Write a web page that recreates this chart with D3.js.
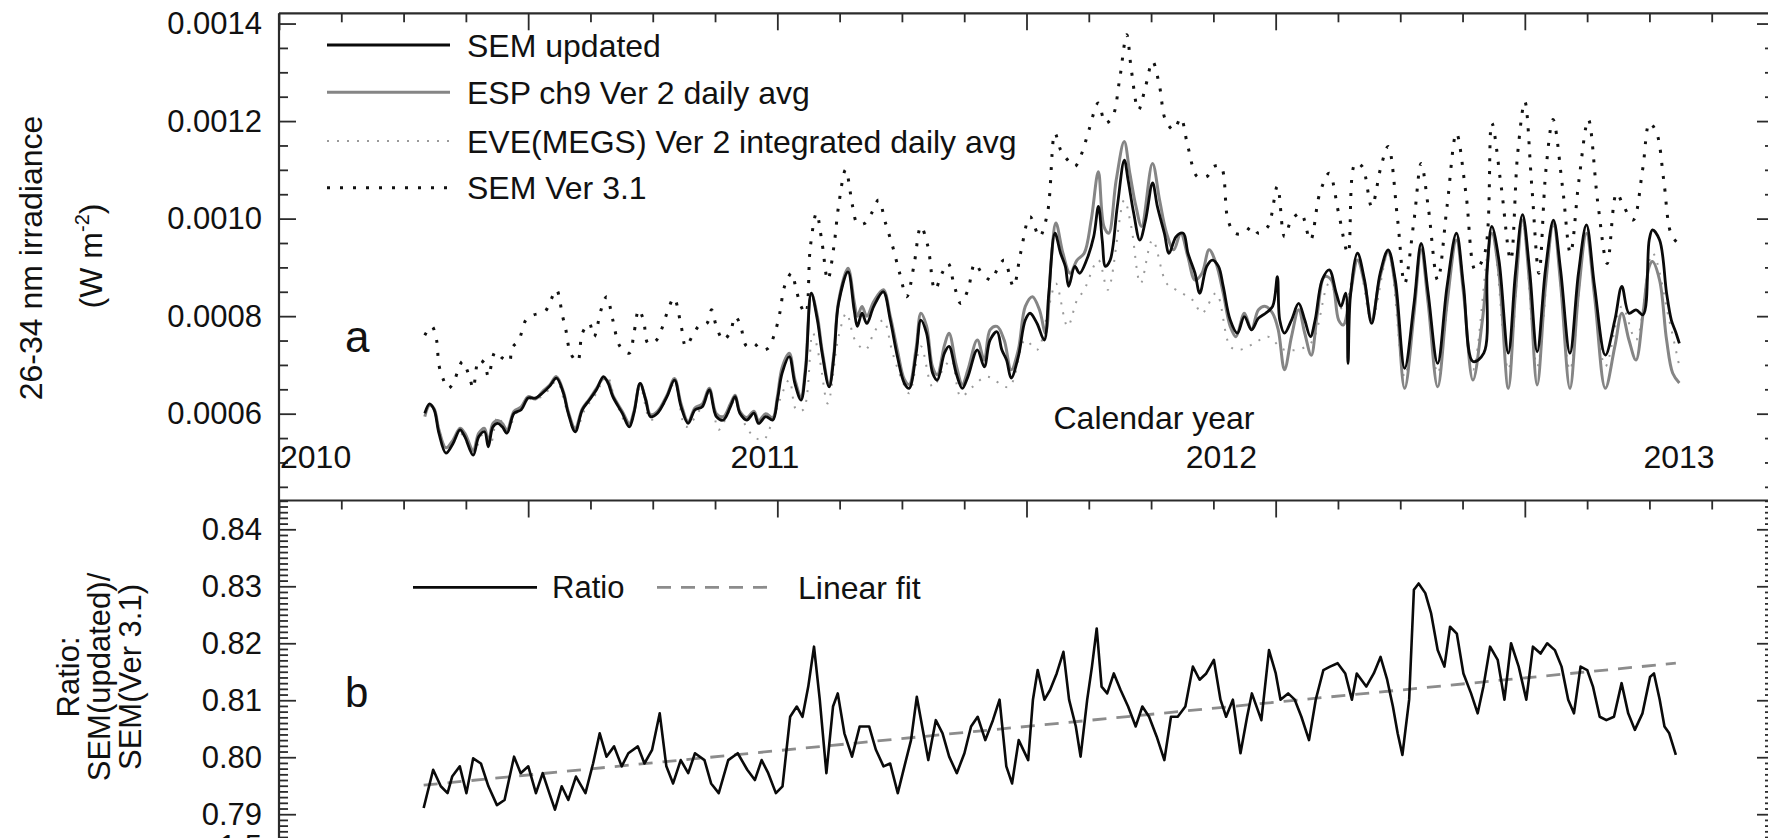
<!DOCTYPE html>
<html>
<head>
<meta charset="utf-8">
<script src="https://cdn.jsdelivr.net/npm/d3@7"></script>
<style>
  html, body { margin: 0; padding: 0; background: #fff; overflow: hidden; }
  svg { display: block; font-family: "Liberation Sans", Arial, Helvetica, sans-serif; }
</style>
</head>
<body>
<svg id="chart" width="1768" height="838"></svg>
<script>
// Time is in days counted from 2010-01-01; irradiance in W m^-2.

const semUpdated = [
  [92.9,6.01e-4],[96.7,6.20e-4],[100.4,6.08e-4],[104.2,5.60e-4],[109.8,5.19e-4],[115.5,5.39e-4],[121.1,5.67e-4],[124.9,5.53e-4],
  [131.6,5.15e-4],[136.1,5.53e-4],[140.7,5.63e-4],[143.7,5.32e-4],[147.4,5.73e-4],[151.2,5.80e-4],[154.9,5.73e-4],[158.7,5.60e-4],
  [164.3,6.01e-4],[170.0,6.08e-4],[175.6,6.32e-4],[181.3,6.32e-4],[186.9,6.42e-4],[192.6,6.56e-4],[198.2,6.73e-4],[203.8,6.42e-4],
  [207.6,6.01e-4],[213.2,5.63e-4],[218.9,6.08e-4],[224.5,6.28e-4],[230.2,6.49e-4],[235.8,6.76e-4],[239.6,6.62e-4],[243.3,6.35e-4],
  [250.8,6.01e-4],[256.5,5.73e-4],[260.2,6.01e-4],[265.1,6.62e-4],[269.6,6.28e-4],[273.4,5.94e-4],[279.0,6.01e-4],[286.6,6.35e-4],
  [292.6,6.69e-4],[297.9,6.14e-4],[303.5,5.80e-4],[309.1,6.08e-4],[314.8,6.14e-4],[320.4,6.49e-4],[326.1,5.94e-4],[331.7,5.87e-4],
  [337.3,6.14e-4],[341.1,6.35e-4],[344.9,6.01e-4],[350.5,5.87e-4],[356.1,6.01e-4],[359.9,5.80e-4],[365.6,5.94e-4],[371.2,5.87e-4],
  [374.9,6.28e-4],[378.7,6.83e-4],[384.4,7.17e-4],[388.9,6.62e-4],[393.8,6.28e-4],[397.5,6.90e-4],[402.0,8.47e-4],[406.9,7.92e-4],
  [410.7,7.24e-4],[416.3,6.55e-4],[420.1,7.17e-4],[423.8,8.26e-4],[431.4,8.91e-4],[436.3,8.13e-4],[438.9,7.79e-4],[442.6,8.06e-4],
  [446.4,7.85e-4],[452.0,8.20e-4],[459.6,8.50e-4],[465.2,7.92e-4],[470.9,7.17e-4],[476.5,6.62e-4],[480.3,6.52e-4],[485.9,7.24e-4],
  [489.7,7.92e-4],[494.2,7.65e-4],[499.1,6.83e-4],[502.8,6.69e-4],[508.5,7.24e-4],[512.2,7.38e-4],[517.9,6.83e-4],[522.8,6.52e-4],
  [527.3,6.76e-4],[534.8,7.31e-4],[540.4,6.96e-4],[545.0,7.51e-4],[550.6,7.68e-4],[554.4,7.31e-4],[558.2,7.10e-4],[561.9,6.73e-4],
  [567.6,7.17e-4],[573.2,7.92e-4],[577.0,8.06e-4],[582.6,7.85e-4],[588.3,7.51e-4],[592.0,8.47e-4],[596.9,9.70e-4],[601.4,9.29e-4],
  [605.2,9.02e-4],[607.9,8.61e-4],[612.8,9.02e-4],[616.6,8.88e-4],[622.2,9.15e-4],[627.9,9.63e-4],[631.7,10.25e-4],[634.7,9.56e-4],
  [637.3,9.02e-4],[641.1,9.15e-4],[646.8,10.25e-4],[652.4,11.20e-4],[655.4,10.79e-4],[659.9,10.11e-4],[664.8,9.56e-4],[669.4,9.97e-4],
  [675.0,10.73e-4],[678.8,10.25e-4],[684.4,9.70e-4],[688.2,9.29e-4],[693.8,9.63e-4],[699.5,9.70e-4],[703.3,9.29e-4],[708.9,8.88e-4],
  [712.7,8.47e-4],[718.3,9.02e-4],[722.8,9.15e-4],[727.7,9.02e-4],[731.5,8.61e-4],[737.1,7.92e-4],[742.8,7.65e-4],[748.4,7.99e-4],
  [754.1,7.72e-4],[759.7,7.96e-4],[765.4,8.06e-4],[771.0,8.20e-4],[774.8,8.81e-4],[776.7,7.92e-4],[780.5,7.65e-4],[786.1,7.92e-4],
  [791.8,8.26e-4],[796.7,7.92e-4],[801.2,7.58e-4],[805.0,7.92e-4],[810.6,8.74e-4],[816.3,8.95e-4],[821.9,8.47e-4],[825.7,8.20e-4],
  [829.4,8.47e-4],[831.3,7.03e-4],[833.2,8.40e-4],[838.9,9.29e-4],[844.5,8.74e-4],[850.2,7.85e-4],[857.0,8.88e-4],[863.4,9.36e-4],
  [869.1,8.74e-4],[876.6,6.93e-4],[884.1,8.26e-4],[889.8,9.49e-4],[895.4,8.47e-4],[903.0,7.03e-4],[910.5,8.61e-4],[918.0,9.70e-4],
  [923.7,8.61e-4],[931.2,7.07e-4],[939.9,7.24e-4],[942.6,8.95e-4],[946.3,9.84e-4],[952.0,9.15e-4],[959.5,7.24e-4],[965.2,8.88e-4],
  [970.9,10.08e-4],[976.5,8.95e-4],[982.6,7.27e-4],[989.2,8.95e-4],[995.6,9.97e-4],[1001.3,8.95e-4],[1008.8,7.24e-4],[1015.6,8.88e-4],
  [1022.0,9.87e-4],[1028.5,8.61e-4],[1037.1,7.20e-4],[1044.7,7.92e-4],[1050.3,8.61e-4],[1056.0,8.06e-4],[1061.6,8.13e-4],[1067.3,8.03e-4],
  [1072.2,9.56e-4],[1074.8,9.77e-4],[1080.5,9.56e-4],[1086.1,8.47e-4],[1089.9,7.92e-4],[1093.7,7.65e-4],[1096.3,7.44e-4]
];

const espCh9 = [
  [92.9,5.94e-4],[96.7,6.17e-4],[100.4,6.10e-4],[104.2,5.67e-4],[109.8,5.30e-4],[115.5,5.46e-4],[121.1,5.70e-4],[124.9,5.60e-4],
  [131.6,5.25e-4],[136.1,5.60e-4],[140.7,5.70e-4],[143.7,5.42e-4],[147.4,5.80e-4],[151.2,5.86e-4],[154.9,5.80e-4],[158.7,5.67e-4],
  [164.3,6.05e-4],[170.0,6.14e-4],[175.6,6.35e-4],[181.3,6.30e-4],[186.9,6.45e-4],[192.6,6.58e-4],[198.2,6.76e-4],[203.8,6.45e-4],
  [207.6,6.05e-4],[213.2,5.70e-4],[218.9,6.10e-4],[224.5,6.30e-4],[230.2,6.52e-4],[235.8,6.72e-4],[239.6,6.66e-4],[243.3,6.38e-4],
  [250.8,6.05e-4],[256.5,5.80e-4],[260.2,6.05e-4],[265.1,6.62e-4],[269.6,6.30e-4],[273.4,5.98e-4],[279.0,6.05e-4],[286.6,6.38e-4],
  [292.6,6.72e-4],[297.9,6.20e-4],[303.5,5.84e-4],[309.1,6.12e-4],[314.8,6.20e-4],[320.4,6.52e-4],[326.1,6.00e-4],[331.7,5.94e-4],
  [337.3,6.20e-4],[341.1,6.38e-4],[344.9,6.05e-4],[350.5,5.92e-4],[356.1,6.05e-4],[359.9,5.86e-4],[365.6,6.00e-4],[371.2,5.92e-4],
  [374.9,6.35e-4],[378.7,6.95e-4],[384.4,7.24e-4],[388.9,6.70e-4],[393.8,6.35e-4],[397.5,6.98e-4],[402.0,8.47e-4],[406.9,8.00e-4],
  [410.7,7.30e-4],[416.3,6.60e-4],[420.1,7.24e-4],[423.8,8.30e-4],[431.4,8.98e-4],[436.3,8.30e-4],[438.9,8.00e-4],[442.6,8.20e-4],
  [446.4,8.00e-4],[452.0,8.30e-4],[459.6,8.54e-4],[465.2,8.00e-4],[470.9,7.30e-4],[476.5,6.70e-4],[480.3,6.60e-4],[485.9,7.35e-4],
  [489.7,8.06e-4],[494.2,7.80e-4],[499.1,6.95e-4],[502.8,6.80e-4],[508.5,7.40e-4],[512.2,7.65e-4],[517.9,7.00e-4],[522.8,6.60e-4],
  [527.3,6.90e-4],[534.8,7.51e-4],[540.4,7.10e-4],[545.0,7.72e-4],[550.6,7.79e-4],[556.3,7.51e-4],[561.9,6.90e-4],[567.6,7.31e-4],
  [573.2,8.20e-4],[578.9,8.40e-4],[584.5,8.13e-4],[589.4,7.65e-4],[593.9,9.15e-4],[597.7,9.91e-4],[603.3,9.29e-4],[609.0,8.88e-4],
  [614.6,9.15e-4],[620.3,9.29e-4],[625.9,9.97e-4],[631.6,10.96e-4],[636.1,9.84e-4],[639.9,9.70e-4],[645.9,10.79e-4],[652.3,11.58e-4],
  [656.8,10.93e-4],[661.7,10.25e-4],[666.2,9.84e-4],[674.9,11.13e-4],[680.6,10.38e-4],[686.2,9.70e-4],[691.9,9.36e-4],[697.5,9.70e-4],
  [703.2,9.22e-4],[708.9,8.74e-4],[714.5,8.88e-4],[720.2,9.36e-4],[725.8,9.08e-4],[731.5,8.47e-4],[737.1,7.79e-4],[741.7,7.58e-4],
  [748.4,8.06e-4],[754.1,7.72e-4],[759.7,8.13e-4],[765.4,8.20e-4],[771.0,8.06e-4],[775.5,7.72e-4],[780.5,6.90e-4],[786.1,7.58e-4],
  [791.8,8.13e-4],[796.7,7.65e-4],[801.9,7.20e-4],[806.8,8.06e-4],[812.5,8.81e-4],[818.1,8.74e-4],[823.8,7.92e-4],[827.5,7.82e-4],
  [833.2,8.47e-4],[838.9,9.15e-4],[844.5,8.67e-4],[850.2,7.92e-4],[857.0,8.81e-4],[863.4,9.32e-4],[869.1,8.61e-4],[876.6,6.52e-4],
  [884.1,8.06e-4],[889.8,9.36e-4],[895.4,8.26e-4],[903.0,6.55e-4],[910.5,8.26e-4],[918.0,9.56e-4],[923.7,8.47e-4],[931.2,6.69e-4],
  [938.8,7.92e-4],[946.3,9.70e-4],[952.0,8.88e-4],[959.5,6.52e-4],[965.2,8.47e-4],[970.9,9.97e-4],[976.5,8.67e-4],[982.6,6.59e-4],
  [989.2,8.61e-4],[995.6,9.91e-4],[1001.3,8.67e-4],[1008.8,6.52e-4],[1015.6,8.47e-4],[1022.0,9.70e-4],[1028.5,8.40e-4],[1037.1,6.52e-4],
  [1044.7,7.38e-4],[1050.3,8.06e-4],[1056.0,7.51e-4],[1061.6,7.10e-4],[1067.3,8.06e-4],[1072.2,9.02e-4],[1074.8,9.12e-4],[1080.5,8.74e-4],
  [1086.1,7.51e-4],[1091.0,6.83e-4],[1096.3,6.63e-4]
];

const eveMegs = [
  [92.9,5.97e-4],[98.5,6.14e-4],[106.0,5.53e-4],[110.6,5.26e-4],[121.1,5.60e-4],[131.6,5.22e-4],[139.9,5.60e-4],[145.5,5.39e-4],
  [151.2,5.94e-4],[158.7,5.67e-4],[166.2,6.01e-4],[175.6,6.28e-4],[186.9,6.35e-4],[198.2,6.66e-4],[205.7,6.14e-4],[213.2,5.63e-4],
  [220.8,6.08e-4],[230.2,6.42e-4],[238.4,6.79e-4],[245.2,6.28e-4],[256.5,5.73e-4],[265.1,6.55e-4],[273.4,5.87e-4],[282.8,6.14e-4],
  [292.6,6.62e-4],[301.6,5.73e-4],[312.9,6.08e-4],[320.4,6.42e-4],[327.9,5.67e-4],[335.5,6.01e-4],[341.1,6.28e-4],[348.6,5.80e-4],
  [356.1,5.53e-4],[363.7,5.46e-4],[369.3,5.73e-4],[376.8,6.28e-4],[384.4,6.69e-4],[390.0,6.08e-4],[395.6,6.08e-4],[403.2,7.65e-4],
  [408.8,7.10e-4],[415.2,6.21e-4],[423.8,7.58e-4],[430.2,8.06e-4],[437.0,7.51e-4],[445.3,7.31e-4],[452.0,7.65e-4],[459.6,7.92e-4],
  [467.1,7.24e-4],[474.6,6.69e-4],[480.3,6.42e-4],[489.7,7.38e-4],[499.1,6.55e-4],[508.5,6.96e-4],[514.1,7.10e-4],[521.6,6.35e-4],
  [531.0,6.55e-4],[542.3,6.76e-4],[560.0,6.55e-4],[573.0,7.51e-4],[582.6,7.31e-4],[592.0,8.20e-4],[597.7,8.67e-4],[607.0,7.79e-4],
  [614.6,8.33e-4],[620.3,8.54e-4],[631.6,9.15e-4],[639.2,8.54e-4],[652.3,10.38e-4],[657.9,9.84e-4],[665.4,8.67e-4],[674.9,9.56e-4],
  [686.2,8.67e-4],[693.8,8.54e-4],[707.0,8.33e-4],[714.5,8.06e-4],[725.8,8.47e-4],[737.1,7.38e-4],[744.6,7.31e-4],[756.0,7.44e-4],
  [767.3,7.58e-4],[780.5,7.31e-4],[801.2,7.44e-4],[816.3,8.67e-4],[827.5,8.13e-4],[838.9,9.15e-4],[850.2,7.92e-4],[863.4,9.29e-4],
  [876.6,6.76e-4],[889.8,9.36e-4],[903.0,6.83e-4],[918.0,9.63e-4],[931.2,6.90e-4],[946.3,9.70e-4],[959.5,6.90e-4],[970.9,9.91e-4],
  [982.6,6.97e-4],[995.6,9.84e-4],[1008.8,6.90e-4],[1022.0,9.70e-4],[1037.1,6.97e-4],[1050.3,8.20e-4],[1061.6,7.51e-4],[1074.8,9.29e-4],
  [1088.2,7.92e-4],[1096.3,6.97e-4]
];

const semVer31 = [
  [92.9,7.61e-4],[98.5,7.79e-4],[102.3,7.51e-4],[104.2,7.00e-4],[107.9,6.69e-4],[111.7,6.52e-4],[115.5,6.62e-4],[119.2,6.86e-4],
  [123.0,7.07e-4],[128.6,6.76e-4],[131.6,6.52e-4],[136.1,7.10e-4],[140.7,7.03e-4],[143.7,6.76e-4],[149.3,7.27e-4],[154.9,7.14e-4],
  [160.6,7.07e-4],[162.5,7.34e-4],[168.1,7.51e-4],[173.8,7.92e-4],[179.4,8.02e-4],[188.8,8.09e-4],[192.6,8.26e-4],[198.2,8.54e-4],
  [203.1,8.00e-4],[205.7,7.72e-4],[209.5,7.24e-4],[215.1,7.07e-4],[218.9,7.65e-4],[224.5,7.85e-4],[228.3,7.58e-4],[233.9,8.13e-4],
  [238.4,8.40e-4],[243.3,7.92e-4],[249.0,7.38e-4],[256.5,7.24e-4],[260.2,7.65e-4],[264.0,8.13e-4],[267.8,7.92e-4],[271.5,7.44e-4],
  [277.2,7.48e-4],[282.1,7.72e-4],[286.6,8.06e-4],[292.2,8.37e-4],[298.0,7.79e-4],[301.6,7.38e-4],[307.3,7.61e-4],[312.9,7.82e-4],
  [318.5,7.85e-4],[322.3,8.13e-4],[326.1,7.79e-4],[331.7,7.51e-4],[337.3,7.68e-4],[341.1,7.99e-4],[344.9,7.85e-4],[350.5,7.38e-4],
  [356.1,7.44e-4],[361.8,7.31e-4],[367.4,7.34e-4],[372.3,7.61e-4],[376.8,8.06e-4],[380.6,8.61e-4],[386.2,8.88e-4],[390.0,8.54e-4],
  [393.8,8.20e-4],[397.5,8.06e-4],[401.3,9.43e-4],[406.2,10.11e-4],[410.7,9.49e-4],[415.2,8.74e-4],[420.1,9.43e-4],[423.8,10.25e-4],
  [429.5,11.00e-4],[435.1,10.25e-4],[438.9,9.90e-4],[444.5,9.90e-4],[450.2,10.11e-4],[455.8,10.38e-4],[461.5,9.90e-4],[467.1,9.43e-4],
  [472.7,8.88e-4],[478.4,8.40e-4],[484.0,9.02e-4],[489.7,9.84e-4],[495.3,9.43e-4],[500.9,8.54e-4],[506.6,8.88e-4],[511.5,9.08e-4],
  [516.0,8.67e-4],[521.6,8.26e-4],[527.3,8.54e-4],[532.9,9.08e-4],[538.5,8.88e-4],[546.1,8.74e-4],[550.6,8.95e-4],[556.3,9.15e-4],
  [563.7,8.61e-4],[569.4,9.29e-4],[577.0,10.04e-4],[584.5,9.63e-4],[590.9,10.11e-4],[596.9,11.75e-4],[601.4,11.41e-4],[607.1,11.20e-4],
  [612.8,11.07e-4],[618.4,11.34e-4],[624.1,11.82e-4],[631.6,12.37e-4],[637.3,11.96e-4],[643.0,12.09e-4],[648.6,12.85e-4],[654.3,13.77e-4],
  [658.0,13.05e-4],[663.7,12.23e-4],[669.4,12.71e-4],[675.0,13.22e-4],[680.6,12.71e-4],[685.2,12.03e-4],[691.9,11.82e-4],[697.5,12.06e-4],
  [703.2,11.48e-4],[710.8,10.86e-4],[718.3,10.86e-4],[724.0,11.07e-4],[729.6,11.07e-4],[735.3,9.97e-4],[740.9,9.70e-4],[748.4,9.70e-4],
  [754.1,9.84e-4],[759.7,9.70e-4],[767.3,9.84e-4],[774.8,10.66e-4],[780.5,9.63e-4],[786.1,9.97e-4],[793.6,10.11e-4],[801.2,9.56e-4],
  [808.7,10.52e-4],[816.3,10.93e-4],[823.8,10.11e-4],[831.3,9.29e-4],[837.0,11.13e-4],[842.6,11.07e-4],[850.2,10.25e-4],[857.7,11.07e-4],
  [863.4,11.48e-4],[871.0,9.97e-4],[876.6,8.67e-4],[884.1,9.97e-4],[889.8,11.13e-4],[895.4,10.25e-4],[903.0,8.74e-4],[910.5,10.25e-4],
  [918.0,11.75e-4],[925.6,10.52e-4],[933.1,8.95e-4],[940.7,9.29e-4],[946.3,11.96e-4],[953.8,10.66e-4],[961.4,9.15e-4],[967.0,11.34e-4],
  [972.7,12.40e-4],[978.3,10.66e-4],[984.0,8.88e-4],[989.6,11.00e-4],[995.3,12.03e-4],[1002.8,10.66e-4],[1009.2,9.29e-4],[1016.0,10.79e-4],
  [1023.5,12.03e-4],[1031.1,10.32e-4],[1038.6,9.08e-4],[1046.1,10.52e-4],[1051.8,10.25e-4],[1059.3,9.97e-4],[1066.9,11.00e-4],[1072.5,11.96e-4],
  [1078.2,11.75e-4],[1083.8,10.79e-4],[1089.5,9.70e-4],[1095.1,9.49e-4]
];

// SEM(updated) / SEM(Ver 3.1)
const ratio = [
  [92.0,0.7911],[99.6,0.7978],[105.7,0.7949],[111.1,0.7937],[114.8,0.7966],[120.9,0.7984],[126.2,0.7937],[131.6,0.7998],
  [137.8,0.7989],[143.8,0.7949],[150.6,0.7916],[156.7,0.7925],[164.3,0.8001],[169.6,0.7972],[175.7,0.7984],[181.8,0.7937],
  [187.2,0.7972],[192.5,0.7937],[197.0,0.7908],[202.4,0.7949],[207.7,0.7925],[213.8,0.7966],[221.4,0.7937],[227.5,0.7989],
  [232.8,0.8042],[238.2,0.8001],[244.3,0.8019],[250.4,0.7984],[255.7,0.8007],[263.3,0.8019],[268.6,0.7989],[274.7,0.8013],
  [280.8,0.8077],[286.1,0.7984],[291.5,0.7954],[297.6,0.7995],[303.6,0.7972],[309.0,0.8007],[316.6,0.7995],[321.9,0.7954],
  [328.0,0.7937],[335.6,0.7995],[343.2,0.8007],[350.8,0.7978],[356.9,0.7960],[362.3,0.7995],[367.6,0.7972],[373.7,0.7937],
  [379.0,0.7949],[385.1,0.8071],[390.4,0.8089],[395.0,0.8071],[399.6,0.8124],[404.2,0.8194],[408.8,0.8101],[414.1,0.7972],
  [419.4,0.8089],[423.2,0.8112],[428.5,0.8042],[434.6,0.8001],[440.7,0.8054],[448.3,0.8054],[453.7,0.8013],[459.8,0.7984],
  [465.1,0.7989],[471.2,0.7937],[476.5,0.7984],[481.8,0.8030],[486.4,0.8106],[491.7,0.8042],[495.6,0.7995],[501.6,0.8065],
  [507.0,0.8042],[512.3,0.8001],[518.4,0.7972],[524.5,0.8007],[529.8,0.8054],[535.1,0.8071],[541.2,0.8030],[547.3,0.8065],
  [552.6,0.8101],[558.0,0.7984],[562.6,0.7954],[567.9,0.8030],[575.5,0.7995],[579.3,0.8101],[583.1,0.8153],[588.5,0.8101],
  [593.0,0.8118],[598.3,0.8147],[603.7,0.8185],[608.2,0.8101],[613.6,0.8054],[617.4,0.8001],[622.7,0.8101],[626.5,0.8159],
  [630.3,0.8226],[634.2,0.8124],[638.7,0.8112],[644.0,0.8147],[649.4,0.8118],[655.4,0.8089],[661.5,0.8054],[666.8,0.8089],
  [672.2,0.8071],[678.3,0.8036],[684.4,0.7995],[689.7,0.8071],[695.1,0.8071],[701.2,0.8089],[707.2,0.8159],[712.6,0.8136],
  [717.9,0.8147],[724.0,0.8171],[729.3,0.8101],[733.8,0.8071],[739.2,0.8101],[745.3,0.8007],[750.6,0.8071],[754.4,0.8112],
  [762.0,0.8065],[768.1,0.8188],[773.5,0.8147],[777.3,0.8101],[783.4,0.8112],[788.7,0.8101],[794.0,0.8071],[800.1,0.8030],
  [805.5,0.8101],[811.6,0.8153],[816.9,0.8159],[823.0,0.8165],[829.1,0.8147],[834.4,0.8101],[838.3,0.8147],[845.9,0.8124],
  [851.9,0.8147],[857.3,0.8176],[862.6,0.8136],[867.2,0.8089],[871.0,0.8042],[874.8,0.8004],[880.2,0.8101],[884.0,0.8294],
  [887.8,0.8305],[893.1,0.8288],[897.7,0.8253],[903.0,0.8188],[908.4,0.8159],[912.9,0.8229],[918.3,0.8217],[923.6,0.8147],
  [929.7,0.8112],[935.0,0.8077],[939.6,0.8124],[944.9,0.8194],[951.0,0.8171],[956.4,0.8101],[961.7,0.8200],[967.8,0.8159],
  [973.9,0.8101],[979.2,0.8194],[985.3,0.8182],[990.6,0.8200],[996.7,0.8188],[1002.1,0.8159],[1007.4,0.8101],[1012.0,0.8077],
  [1017.3,0.8159],[1022.6,0.8153],[1027.2,0.8124],[1032.6,0.8071],[1037.9,0.8065],[1044.0,0.8071],[1050.1,0.8130],[1055.4,0.8077],
  [1060.7,0.8048],[1066.8,0.8077],[1072.9,0.8141],[1076.0,0.8147],[1080.6,0.8101],[1084.4,0.8054],[1088.2,0.8042],[1093.5,0.8004]
];

// straight-line fit of the ratio, end points
const ratioFit = [[92.0,0.7951],[1093.5,0.8165]];

const yearLabels = ["2010", "2011", "2012", "2013"];
const yearStartDays = [0, 365, 730, 1096];
const irradianceTicks = [0.0006, 0.0008, 0.0010, 0.0012, 0.0014];
const ratioTicks = [0.79, 0.80, 0.81, 0.82, 0.83, 0.84];

// ---------------------------------------------------------------- layout
const svg = d3.select("#chart");
const axisX0 = 279, axisX1 = 1774;
const topA = 13.3, divY = 500.5, bottomB = 842.7;
const ink = "#2b2b2b";
const FONT = 31;     // tick labels
const FONT_T = 32;   // legend, year and axis words

const x = d3.scaleLinear().domain([-23.7, 1172.0]).range([axisX0, axisX1]);
const yA = d3.scaleLinear().domain([0.000422, 0.001421]).range([divY, topA]);
const yB = d3.scaleLinear().domain([0.785, 0.845]).range([bottomB, divY + 0.3]);

// x ticks: 24 equal steps across the axis, every 4th one long
const xSpan = x.domain()[1] - x.domain()[0];
const xTickAll = d3.range(0, 25).map(i => x.domain()[0] + i * xSpan / 24);
const xMajor = xTickAll.filter((d, i) => i % 4 === 0);
const xMinor = xTickAll.filter((d, i) => i % 4 !== 0);

function styleAxis(g) {
  g.select(".domain").remove();
  g.selectAll(".tick line").attr("stroke", ink).attr("stroke-width", 1.8);
  g.selectAll(".tick text").attr("fill", "#111").attr("font-size", FONT)
    .attr("font-family", "'Liberation Sans', Arial, sans-serif");
}

// top edge of panel a and the shared edge between the panels
[topA, divY].forEach(yy => {
  svg.append("g").attr("transform", `translate(0,${yy})`)
    .call(d3.axisBottom(x).tickValues(xMajor).tickSize(17).tickFormat(""))
    .call(styleAxis);
  svg.append("g").attr("transform", `translate(0,${yy})`)
    .call(d3.axisBottom(x).tickValues(xMinor).tickSize(9).tickFormat(""))
    .call(styleAxis);
});

// y ticks
const aMinorVals = d3.range(0.00045, 0.0014201, 0.00005).filter(v => Math.abs((v * 1e5) % 20) > 0.5 && Math.abs((v * 1e5) % 20 - 20) > 0.5);
const aMajorVals = irradianceTicks;
const bMinorVals = d3.range(0.786, 0.8450001, 0.001).filter(v => Math.abs(Math.round(v * 100) - v * 100) > 0.01);
const bMajorVals = ratioTicks;

function yTicks(scale, majors, minors, fmt) {
  // inward ticks on the left
  svg.append("g").attr("transform", `translate(${axisX0},0)`)
    .call(d3.axisRight(scale).tickValues(majors).tickSize(17).tickFormat("")).call(styleAxis);
  svg.append("g").attr("transform", `translate(${axisX0},0)`)
    .call(d3.axisRight(scale).tickValues(minors).tickSize(9).tickFormat("")).call(styleAxis);
  // labels on the left
  svg.append("g").attr("transform", `translate(${axisX0},0)`)
    .call(d3.axisLeft(scale).tickValues(majors).tickSize(0).tickPadding(17).tickFormat(fmt)).call(styleAxis);
  // inward ticks on the right
  svg.append("g").attr("transform", `translate(${axisX1},0)`)
    .call(d3.axisLeft(scale).tickValues(majors).tickSize(17).tickFormat("")).call(styleAxis);
  svg.append("g").attr("transform", `translate(${axisX1},0)`)
    .call(d3.axisLeft(scale).tickValues(minors).tickSize(9).tickFormat("")).call(styleAxis);
}
yTicks(yA, aMajorVals, aMinorVals, d3.format(".4f"));
yTicks(yB, bMajorVals, bMinorVals, d3.format(".2f"));

// frame lines
const frame = svg.append("g").attr("stroke", ink).attr("stroke-width", 2.2).attr("fill", "none");
frame.append("line").attr("x1", axisX0).attr("x2", axisX1).attr("y1", topA).attr("y2", topA);
frame.append("line").attr("x1", axisX0).attr("x2", axisX1).attr("y1", divY).attr("y2", divY);
frame.append("line").attr("x1", axisX0).attr("x2", axisX0).attr("y1", topA).attr("y2", bottomB);
frame.append("line").attr("x1", axisX1).attr("x2", axisX1).attr("y1", topA).attr("y2", bottomB);

// ---------------------------------------------------------------- panel a
const lineA = d3.line().x(d => x(d[0])).y(d => yA(d[1])).curve(d3.curveCatmullRom.alpha(0.5));
const lineB = d3.line().x(d => x(d[0])).y(d => yB(d[1]));

const styles = {
  sem31: { stroke: "#111", width: 3, dash: "3,10" },
  eve:   { stroke: "#9a9a9a", width: 2, dash: "2,8" },
  esp:   { stroke: "#858585", width: 3, dash: null },
  sem:   { stroke: "#0a0a0a", width: 2.8, dash: null }
};

function drawSeries(data, st, gen) {
  svg.append("path").datum(data)
    .attr("d", gen)
    .attr("fill", "none")
    .attr("stroke", st.stroke)
    .attr("stroke-width", st.width)
    .attr("stroke-linejoin", "round")
    .attr("stroke-dasharray", st.dash);
}
drawSeries(semVer31, styles.sem31, lineA);
drawSeries(eveMegs, styles.eve, lineA);
drawSeries(espCh9, styles.esp, lineA);
drawSeries(semUpdated, styles.sem, lineA);

// legend, panel a
const legendA = [
  { label: "SEM updated", st: styles.sem },
  { label: "ESP ch9 Ver 2 daily avg", st: styles.esp },
  { label: "EVE(MEGS) Ver 2 integrated daily avg", st: styles.eve },
  { label: "SEM Ver 3.1", st: styles.sem31 }
];
const legRowY = [45, 92.3, 141, 187.7];
legendA.forEach((item, i) => {
  const yy = legRowY[i];
  svg.append("line").attr("x1", 327).attr("x2", 450).attr("y1", yy).attr("y2", yy)
    .attr("stroke", item.st.stroke).attr("stroke-width", item.st.width)
    .attr("stroke-dasharray", item.st.dash);
  svg.append("text").attr("x", 467).attr("y", yy).attr("dy", "0.36em")
    .attr("font-size", FONT_T).attr("fill", "#111").text(item.label);
});

// year labels under panel a
yearLabels.forEach((lab, i) => {
  const t = svg.append("text").attr("y", 468).attr("font-size", FONT_T).attr("fill", "#111")
    .attr("text-anchor", "middle").attr("x", x(yearStartDays[i])).text(lab);
  const bb = t.node().getBBox();
  if (bb.x < axisX0 + 1) t.attr("x", x(yearStartDays[i]) + (axisX0 + 1 - bb.x));
});
svg.append("text").attr("x", 1053.5).attr("y", 429.3).attr("font-size", FONT_T).attr("fill", "#111")
  .text("Calendar year");

svg.append("text").attr("x", 345).attr("y", 351.7).attr("font-size", 44).attr("fill", "#111").text("a");

// y title, panel a
const titleA = svg.append("g").attr("font-size", 32).attr("fill", "#111").attr("text-anchor", "middle");
titleA.append("text").attr("transform", "translate(42,258) rotate(-90)").text("26-34 nm irradiance");
const unitA = titleA.append("text").attr("transform", "translate(102,256) rotate(-90)");
unitA.append("tspan").text("(W m");
unitA.append("tspan").attr("font-size", 20).attr("dy", -13).text("-2");
unitA.append("tspan").attr("dy", 13).text(")");

// ---------------------------------------------------------------- panel b
svg.append("path").datum(ratioFit)
  .attr("d", lineB).attr("fill", "none").attr("stroke", "#8c8c8c")
  .attr("stroke-width", 2.8).attr("stroke-dasharray", "14,10");
svg.append("path").datum(ratio)
  .attr("d", lineB).attr("fill", "none").attr("stroke", "#0a0a0a")
  .attr("stroke-width", 2.6).attr("stroke-linejoin", "round");

// legend, panel b
svg.append("line").attr("x1", 413).attr("x2", 537).attr("y1", 587.3).attr("y2", 587.3)
  .attr("stroke", "#0a0a0a").attr("stroke-width", 2.8);
svg.append("text").attr("x", 552).attr("y", 587.3).attr("dy", "0.36em").attr("font-size", FONT)
  .attr("fill", "#111").text("Ratio");
svg.append("line").attr("x1", 657).attr("x2", 776).attr("y1", 587.3).attr("y2", 587.3)
  .attr("stroke", "#8c8c8c").attr("stroke-width", 2.8).attr("stroke-dasharray", "14,10");
svg.append("text").attr("x", 798).attr("y", 587.3).attr("dy", "0.36em").attr("font-size", FONT_T)
  .attr("fill", "#111").text("Linear fit");

svg.append("text").attr("x", 345).attr("y", 706.7).attr("font-size", 42).attr("fill", "#111").text("b");

// y title, panel b
const titleB = svg.append("g").attr("font-size", 31).attr("fill", "#111").attr("text-anchor", "middle");
["Ratio:", "SEM(updated)/", "SEM(Ver 3.1)"].forEach((s, i) => {
  titleB.append("text").attr("transform", `translate(${[79, 110, 141][i]},677) rotate(-90)`).text(s);
});

// first label of the panel below, mostly outside the frame
svg.append("text").attr("x", 262).attr("y", 857).attr("text-anchor", "end")
  .attr("font-size", FONT).attr("fill", "#111").text("1.5");
</script>
</body>
</html>
